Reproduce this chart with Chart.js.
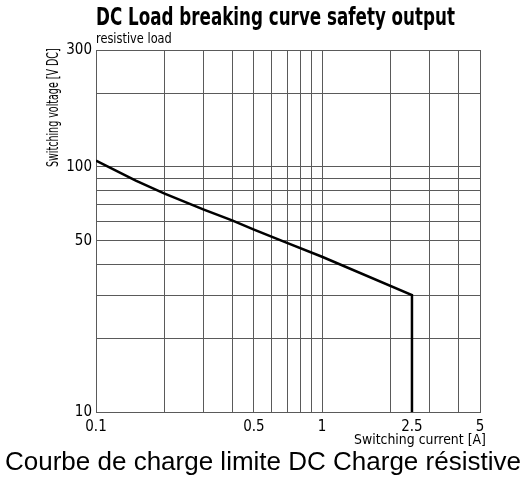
<!DOCTYPE html>
<html>
<head>
<meta charset="utf-8">
<script src="https://cdn.jsdelivr.net/npm/chart.js@4/dist/chart.umd.min.js"></script>
<style>
  html, body { margin: 0; padding: 0; background: #fff; }
  #wrap { position: relative; width: 526px; height: 481px; overflow: hidden; }
  #c { position: absolute; left: 0; top: 0; }
  .t { position: absolute; white-space: nowrap; color: #000; transform-origin: 0 0; }
  #title { left: 96px; top: 3px; font: bold 24px "DejaVu Sans Condensed", "DejaVu Sans", sans-serif; }
  #sub { left: 96px; top: 30px; font: 14px "DejaVu Sans Condensed", "DejaVu Sans", sans-serif; }
  #xt { left: 354px; top: 431px; font: 14px "DejaVu Sans Condensed", "DejaVu Sans", sans-serif; }
  #yt { left: 45px; top: 167px; font: 16px/15px "DejaVu Sans Condensed", "DejaVu Sans", sans-serif; }
  #cap { left: 5px; top: 446px; font: 26px "Liberation Sans", Arial, sans-serif; }
</style>
</head>
<body>
<div id="wrap">
  <canvas id="c" width="526" height="481"></canvas>
  <div class="t" id="title">DC Load breaking curve safety output</div>
  <div class="t" id="sub">resistive load</div>
  <div class="t" id="xt">Switching current [A]</div>
  <div class="t" id="yt">Switching voltage [V DC]</div>
  <div class="t" id="cap">Courbe de charge limite DC Charge résistive</div>
</div>
<script>
const currentA = [0.1, 0.15, 0.2, 0.3, 0.4, 0.5, 0.7, 1, 2.5, 2.5];
const voltageV = [106, 88, 78, 67, 60.5, 55.5, 49, 43, 30, 10];
const xGridValues = [0.1, 0.2, 0.3, 0.4, 0.5, 0.6, 0.7, 0.8, 0.9, 1, 2, 2.5, 3, 4, 5];
const xTickLabels = ['0.1', '0.5', '1', '2.5', '5'];
const yGridValues = [10, 20, 30, 40, 50, 60, 70, 80, 90, 100, 200, 300];
const yTickLabels = ['10', '50', '100', '300'];

function fit(id, w, rot) {
  const el = document.getElementById(id);
  const s = w / el.offsetWidth;
  el.style.transform = (rot ? 'rotate(-90deg) ' : '') + 'scaleX(' + s + ')';
}
fit('title', 359);
fit('sub', 76);
fit('xt', 132);
fit('yt', 119, true);
fit('cap', 516);

const narrow = '"DejaVu Sans Condensed", "DejaVu Sans", sans-serif';
const gridCol = '#5a5a5a';

new Chart(document.getElementById('c'), {
  type: 'line',
  data: {
    datasets: [{
      data: currentA.map((x, i) => ({ x: x, y: voltageV[i] })),
      borderColor: '#000',
      borderWidth: 2.5,
      pointRadius: 0,
      tension: 0,
      fill: false
    }]
  },
  options: {
    responsive: false,
    animation: false,
    devicePixelRatio: 1,
    layout: { padding: { left: 40, right: 46, top: 50, bottom: 39 } },
    plugins: { legend: { display: false }, tooltip: { enabled: false } },
    scales: {
      x: {
        type: 'logarithmic',
        min: 0.1, max: 5,
        afterBuildTicks: s => { s.ticks = xGridValues.map(v => ({ value: v })); },
        afterFit: s => { s.height = 30; },
        ticks: {
          autoSkip: false, maxRotation: 0, padding: 6,
          color: '#000', font: { family: narrow, size: 15 },
          callback: v => xTickLabels.includes(String(v)) ? String(v) : ''
        },
        grid: {
          drawTicks: false,
          color: c => (c.tick && c.tick.value === 2.5) ? 'rgba(0,0,0,0)' : gridCol,
          lineWidth: 1
        },
        border: { color: gridCol, width: 1 }
      },
      y: {
        type: 'logarithmic',
        min: 10, max: 300,
        afterBuildTicks: s => { s.ticks = yGridValues.map(v => ({ value: v })); },
        afterFit: s => { s.width = 56; },
        ticks: {
          autoSkip: false, padding: 4,
          color: '#000', font: { family: narrow, size: 15 },
          callback: v => yTickLabels.includes(String(v)) ? String(v) : ''
        },
        grid: { drawTicks: false, color: gridCol, lineWidth: 1 },
        border: { color: gridCol, width: 1 }
      }
    }
  }
});
</script>
</body>
</html>
